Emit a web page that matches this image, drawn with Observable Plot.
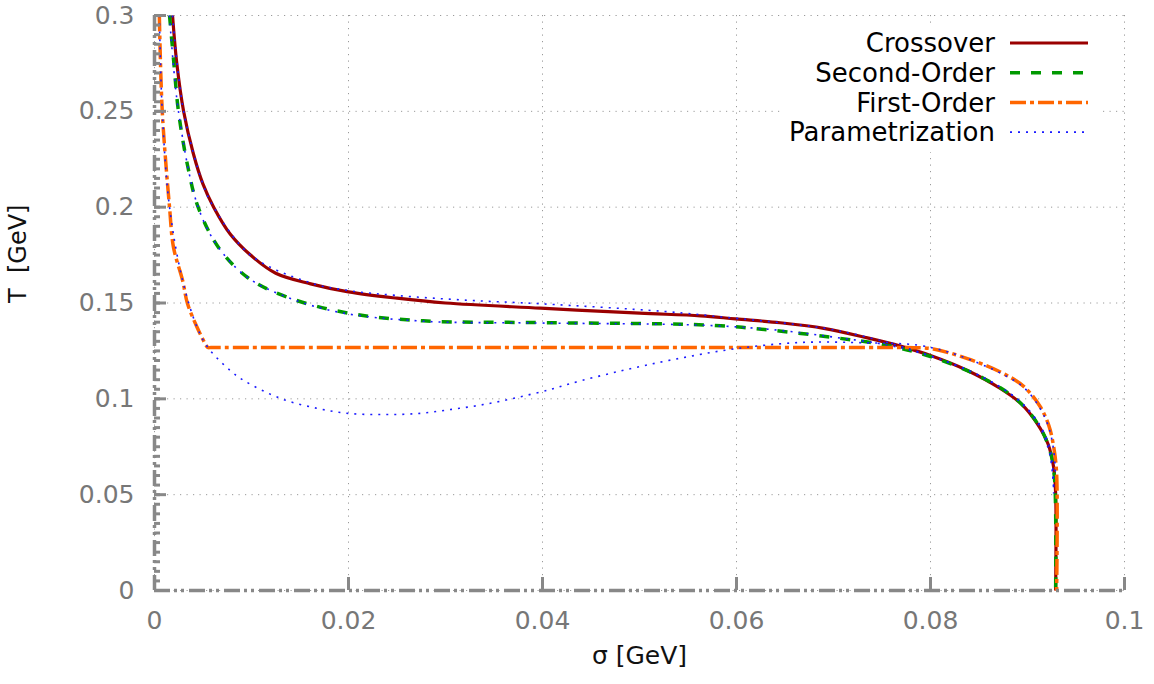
<!DOCTYPE html>
<html><head><meta charset="utf-8">
<script src="https://cdn.jsdelivr.net/npm/d3@7"></script>
<script src="https://cdn.jsdelivr.net/npm/@observablehq/plot@0.6"></script>
<style>
body{margin:0;background:#fff;}
#wrap{position:relative;width:1154px;height:684px;}
#legend{position:absolute;left:780px;top:28px;background:#fff;}
</style></head><body><div id="wrap"></div>
<script>
// ---- data (σ in GeV, T in GeV) ----
const crossoverSigma = [0.00186,0.0023,0.0030,0.0040,0.0050,0.0061,0.0078,0.0099,0.0125,0.0161,0.0200,0.0250,0.0300,0.0398,0.0500,0.0563,0.0599,0.0645,0.0690,0.0735,0.0769,0.0800,0.0838,0.0872,0.0893,0.0910,0.0921,0.0927,0.0929,0.0929];
const crossoverT     = [0.300,0.275,0.250,0.228,0.212,0.200,0.186,0.175,0.1655,0.1600,0.1558,0.1525,0.1500,0.1473,0.1447,0.1433,0.1417,0.1397,0.1368,0.1318,0.1275,0.1226,0.1148,0.1054,0.0976,0.0871,0.0767,0.0642,0.0506,0.0];

const secondSigma = [0.00155,0.0020,0.00247,0.0034,0.0045,0.0066,0.0096,0.0137,0.0202,0.0277,0.0388,0.0525,0.0584,0.0632,0.0700,0.0756,0.0803,0.0855,0.0890,0.0913,0.0924,0.0928,0.0929];
const secondT     = [0.300,0.275,0.250,0.222,0.200,0.179,0.1633,0.1530,0.1445,0.1407,0.1398,0.1391,0.1381,0.1360,0.1320,0.1278,0.1216,0.1106,0.0991,0.0850,0.0715,0.0574,0.0];

const firstSigma = [0.0005,0.0008,0.00155,0.00196,0.0029,0.0034,0.0044,0.0048,0.0055,0.0058,0.0065,0.0080,0.0120,0.0200,0.0300,0.0400,0.0500,0.0600,0.0700,0.0760,0.0775,0.0783,0.0803,0.0838,0.0872,0.0896,0.0913,0.0922,0.0927,0.0930,0.0930];
const firstT     = [0.300,0.250,0.200,0.179,0.1617,0.1497,0.1372,0.1330,0.1268,0.1268,0.1268,0.1268,0.1268,0.1268,0.1268,0.1268,0.1268,0.1268,0.1268,0.1268,0.1268,0.1267,0.1260,0.1210,0.1140,0.1065,0.0960,0.0860,0.0750,0.0610,0.0];

const param1Sigma = [0.00186,0.0030,0.0050,0.0061,0.0099,0.0161,0.0200,0.0250,0.0320,0.0398,0.0525,0.0599,0.0645,0.0700,0.0769,0.0838,0.0872,0.0893,0.0912,0.0922,0.0926,0.0927];
const param1T     = [0.300,0.250,0.212,0.200,0.175,0.1605,0.1565,0.1539,0.1515,0.1496,0.1456,0.1420,0.1397,0.1360,0.1275,0.1150,0.1060,0.0985,0.0870,0.0760,0.0640,0.0506];

const param2Sigma = [0.00155,0.00247,0.0045,0.0066,0.0096,0.0137,0.0192,0.0277,0.0388,0.0525,0.0584,0.0645,0.0700,0.0756,0.0803,0.0855,0.0890,0.0912,0.0922,0.0926,0.0927];
const param2T     = [0.300,0.250,0.200,0.179,0.1633,0.1530,0.1450,0.1405,0.1396,0.1389,0.1380,0.1357,0.1322,0.1280,0.1218,0.1110,0.0995,0.0860,0.0730,0.0600,0.0520];

const param3Sigma = [0.0005,0.0008,0.00155,0.0029,0.0044,0.0055,0.0078,0.0092,0.0130,0.0168,0.0202,0.0236,0.0271,0.0305,0.0339,0.0374,0.0408,0.0429,0.0480,0.0535,0.0597,0.0666,0.0735,0.0787,0.0821,0.0850,0.0872,0.0896,0.0913,0.0922,0.0927,0.0929];
const param3T     = [0.300,0.250,0.200,0.1617,0.1372,0.1268,0.1148,0.1096,0.1002,0.0950,0.0923,0.0918,0.0923,0.0944,0.0970,0.1007,0.1049,0.1080,0.1145,0.1205,0.1260,0.1294,0.1292,0.1280,0.1240,0.1185,0.1135,0.1060,0.0950,0.0850,0.0730,0.0600];

const xTicks = [0,0.02,0.04,0.06,0.08,0.1];
const yTicks = [0,0.05,0.1,0.15,0.2,0.25,0.3];
const legendLabels = ["Crossover","Second-Order","First-Order","Parametrization"];

// ---- styles ----
const styles = {
  crossover: {stroke:"#9a0000", strokeWidth:3.2, strokeDasharray:null},
  second:    {stroke:"#009900", strokeWidth:3.5, strokeDasharray:"10,11"},
  first:     {stroke:"#ff6600", strokeWidth:3.5, strokeDasharray:"16,4,4,4"},
  param:     {stroke:"#1a1aff", strokeWidth:1.6, strokeDasharray:"2,6"}
};
const axisGray = "#888";
const W = 1154, H = 684, mL = 154, mR = 30, mT = 15, mB = 94;
const frameW = W - mL - mR, frameH = H - mT - mB;

const rows = (sig, t) => sig.map((s, i) => ({s, T: t[i]}));
const seriesList = [
  {data: rows(crossoverSigma, crossoverT), st: styles.crossover},
  {data: rows(secondSigma, secondT), st: styles.second},
  {data: rows(firstSigma, firstT), st: styles.first},
  {data: rows(param1Sigma, param1T), st: styles.param},
  {data: rows(param2Sigma, param2T), st: styles.param},
  {data: rows(param3Sigma, param3T), st: styles.param}
];
const yMinor = d3.range(0, 61).map(i => i * 0.005);

const lineMarks = seriesList.map(({data, st}) => Plot.line(data, {
  x: "s", y: "T", curve: "catmull-rom",
  stroke: st.stroke, strokeWidth: st.strokeWidth, strokeDasharray: st.strokeDasharray,
  strokeLinecap: "butt", strokeLinejoin: "round"
}));

const gridStyle = {stroke:"#9a9a9a", strokeOpacity:1, strokeWidth:1, strokeDasharray:"1.2,5.3"};
const borderDash = "16,4,3,4,3,5";

const chart = Plot.plot({
  width: W, height: H, marginLeft: mL, marginRight: mR, marginTop: mT, marginBottom: mB,
  style: {fontFamily: "DejaVu Sans", background: "white"},
  x: {domain: [0, 0.1]},
  y: {domain: [0, 0.3]},
  marks: [
    Plot.gridX(xTicks, gridStyle),
    Plot.gridY(yTicks, gridStyle),
    Plot.axisX(xTicks, {tickSize: 0, tickPadding: 21, fontSize: 25, fill: "#777", tickFormat: d3.format("~g"), label: null}),
    Plot.axisY(yTicks, {tickSize: 0, tickPadding: 20, fontSize: 25, fill: "#777", tickFormat: d3.format("~g"), label: null}),
    ...lineMarks,
    Plot.ruleX([0], {stroke: axisGray, strokeWidth: 3.5, strokeDasharray: borderDash}),
    Plot.ruleY([0], {stroke: axisGray, strokeWidth: 3.5, strokeDasharray: borderDash}),
    Plot.tickY(yMinor, {y: d => d, insetRight: frameW - 6, stroke: axisGray, strokeWidth: 3}),
    Plot.tickY(yTicks, {y: d => d, insetRight: frameW - 12, stroke: axisGray, strokeWidth: 3}),
    Plot.tickX(xTicks, {x: d => d, insetTop: frameH - 13, stroke: axisGray, strokeWidth: 3}),
    Plot.text(["σ [GeV]"], {text: d => d, frameAnchor: "bottom", dy: 73, fontSize: 25, fill: "#111"}),
    Plot.text(["T\u00a0\u00a0[GeV]"], {text: d => d, frameAnchor: "left", dx: -136, rotate: -90, fontSize: 24, fill: "#111"})
  ]
});
const wrap = document.getElementById("wrap");
wrap.appendChild(chart);

// ---- legend (opaque box, top right) ----
const legendStyles = [styles.crossover, styles.second, styles.first, styles.param];
const lw = 320, lh = 120;
const leg = d3.create("svg").attr("width", lw).attr("height", lh)
  .attr("font-family", "DejaVu Sans").attr("font-size", 26);
legendLabels.forEach((lab, i) => {
  const cy = 15 + i * 29.7;
  leg.append("text").attr("x", 215).attr("y", cy).attr("dy", "0.35em")
    .attr("text-anchor", "end").attr("fill", "#000").text(lab);
  const st = legendStyles[i];
  leg.append("line").attr("x1", 230).attr("x2", 308).attr("y1", cy).attr("y2", cy)
    .attr("stroke", st.stroke).attr("stroke-width", st.strokeWidth)
    .attr("stroke-dasharray", st.strokeDasharray);
});
const div = document.createElement("div");
div.id = "legend";
div.appendChild(leg.node());
wrap.appendChild(div);
</script></body></html>
